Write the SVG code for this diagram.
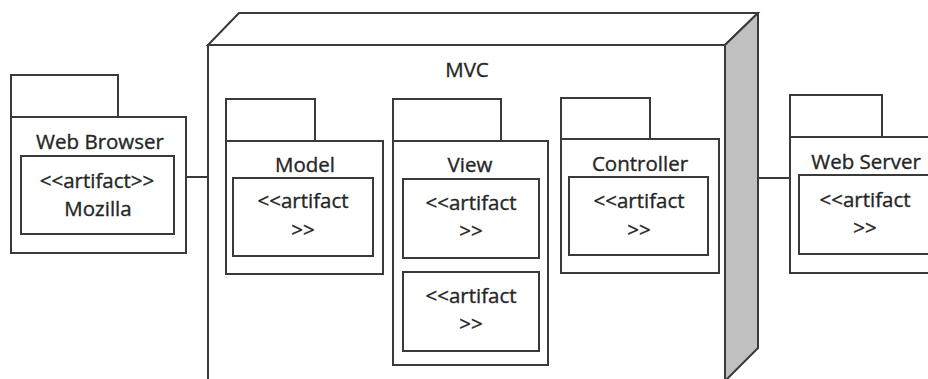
<svg xmlns="http://www.w3.org/2000/svg" width="928" height="379" viewBox="0 0 928 379">
  <style>
    .box { fill: #ffffff; stroke: #3a3a3a; stroke-width: 2; }
    .side { fill: #c0c0c0; stroke: #3a3a3a; stroke-width: 2; stroke-linejoin: round; }
    .wire { stroke: #3a3a3a; stroke-width: 2; fill: none; }
    text { font-family: "Open Sans", "Liberation Sans", sans-serif; fill: #262626; stroke: #262626; stroke-width: 0.35; text-anchor: middle; }
    .title { font-size: 20.5px; }
    .art { font-size: 20.5px; }
  </style>
  <rect x="0" y="0" width="928" height="379" fill="#ffffff"/>

  <!-- MVC execution node (3D box) -->
  <g id="mvc">
    <rect class="box" x="208" y="45" width="517" height="345"/>
    <polygon class="box" points="208,45 239,13 758,13 725,45"/>
    <polygon class="side" points="725,45 758,13 758,348 725,381"/>
    <text class="title" x="467" y="77">MVC</text>
  </g>

  <!-- connectors -->
  <g id="connectors">
    <line class="wire" x1="186" y1="177" x2="208" y2="177"/>
    <line class="wire" x1="758" y1="178" x2="790" y2="178"/>
  </g>

  <g id="web-browser">
    <rect class="box" x="11" y="75" width="107" height="42"/>
    <rect class="box" x="11" y="117" width="175" height="136"/>
    <text class="title" x="100" y="149">Web Browser</text>
    <rect class="box" x="21" y="156" width="153" height="78"/>
    <text class="art" x="97" y="188">&lt;&lt;artifact&gt;&gt;</text>
    <text class="art" x="98" y="216">Mozilla</text>
  </g>

  <g id="model">
    <rect class="box" x="226" y="99" width="89" height="42"/>
    <rect class="box" x="226" y="141" width="157" height="133"/>
    <text class="title" x="305" y="172">Model</text>
    <rect class="box" x="233" y="178" width="140" height="78"/>
    <text class="art" x="303" y="208">&lt;&lt;artifact</text>
    <text class="art" x="303" y="237">&gt;&gt;</text>
  </g>

  <g id="view">
    <rect class="box" x="393" y="99" width="108" height="42"/>
    <rect class="box" x="393" y="141" width="155" height="224"/>
    <text class="title" x="470" y="172">View</text>
    <rect class="box" x="403" y="179" width="136" height="79"/>
    <text class="art" x="471" y="210">&lt;&lt;artifact</text>
    <text class="art" x="471" y="238">&gt;&gt;</text>
    <rect class="box" x="403" y="272" width="136" height="79"/>
    <text class="art" x="471" y="303">&lt;&lt;artifact</text>
    <text class="art" x="471" y="331">&gt;&gt;</text>
  </g>

  <g id="controller">
    <rect class="box" x="561" y="98" width="89" height="41"/>
    <rect class="box" x="561" y="139" width="158" height="134"/>
    <text class="title" x="640" y="171">Controller</text>
    <rect class="box" x="569" y="177" width="139" height="78"/>
    <text class="art" x="639" y="208">&lt;&lt;artifact</text>
    <text class="art" x="639" y="237">&gt;&gt;</text>
  </g>

  <g id="web-server">
    <rect class="box" x="790" y="95" width="92" height="42"/>
    <rect class="box" x="790" y="137" width="160" height="136"/>
    <text class="title" x="866" y="169">Web Server</text>
    <rect class="box" x="799" y="175" width="150" height="79"/>
    <text class="art" x="865" y="207">&lt;&lt;artifact</text>
    <text class="art" x="865" y="235">&gt;&gt;</text>
  </g>
</svg>
